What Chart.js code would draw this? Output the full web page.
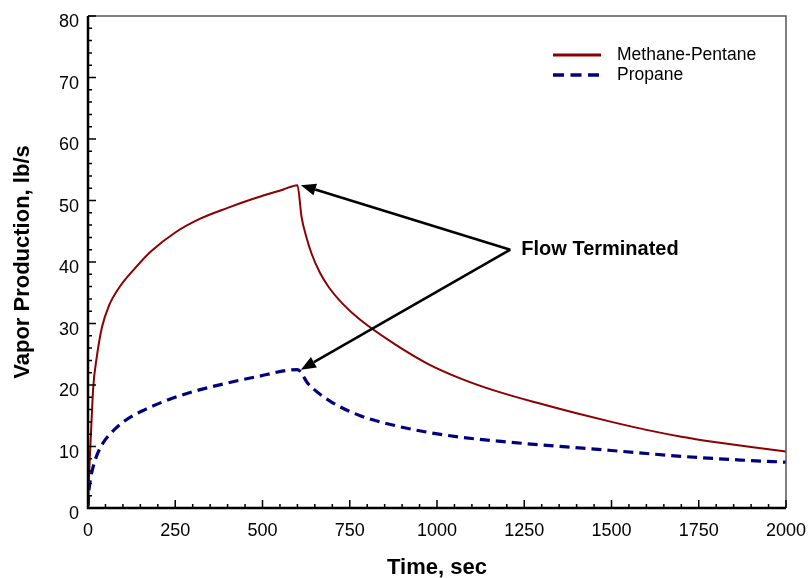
<!DOCTYPE html>
<html>
<head>
<meta charset="utf-8">
<script src="https://cdn.jsdelivr.net/npm/chart.js@4.4.1/dist/chart.umd.min.js"></script>
<style>
  html, body { margin: 0; padding: 0; background: #fff; }
  canvas { display: block; }
</style>
</head>
<body>
<canvas id="c" width="809" height="578"></canvas>
<script>
// ---- data ----
const methaneTime = [0, 2, 5, 8, 15, 25, 40, 60, 90, 135, 180, 250, 320, 400, 480, 560, 600,
  612, 625, 641, 665, 690, 730, 780, 880, 975, 1070, 1170, 1300, 1400, 1500, 1600, 1700, 1800, 1900, 2000];
const methaneValues = [0, 3.4, 8, 11.5, 19.6, 24.5, 29.4, 32.9, 35.9, 39.0, 41.7, 44.8, 47.0, 48.8, 50.4, 51.8, 52.5,
  47.3, 44.2, 41.3, 38.2, 35.9, 33.2, 30.6, 26.6, 23.4, 21.0, 19.0, 16.9, 15.4, 14.0, 12.7, 11.6, 10.7, 9.9, 9.2];

const propaneTime = [0, 3, 8, 20, 39, 68, 106, 163, 230, 300, 390, 480, 600,
  631, 690, 780, 880, 975, 1070, 1170, 1300, 1500, 1700, 1870, 2000];
const propaneValues = [0.3, 3.0, 5.0, 7.7, 10.2, 12.3, 14.2, 16.0, 17.6, 18.9, 20.2, 21.3, 22.5,
  20.2, 17.5, 15.0, 13.4, 12.3, 11.5, 10.9, 10.25, 9.35, 8.4, 7.8, 7.45];

const seriesLabels = ['Methane-Pentane', 'Propane'];
const xAxisTitle = 'Time, sec';
const yAxisTitle = 'Vapor Production, lb/s';
const xRange = [0, 2000], xMajor = 250, xMinor = 50;
const yRange = [0, 80], yMajor = 10, yMinor = 2;

const annotationText = 'Flow Terminated';
const annotationAnchor = { x: 1210, y: 42 };
const annotationTargets = [{ x: 610, y: 52.5 }, { x: 610, y: 22.5 }];

const FONT = "'Liberation Sans', Arial, sans-serif";
const RED = '#8b0000';
const BLUE = '#000080';

const toPoints = (xs, ys) => xs.map((x, i) => ({ x, y: ys[i] }));

// ---- custom drawing: frame, inward ticks, legend, annotation ----
const decorPlugin = {
  id: 'decor',
  afterDatasetsDraw(chart) {
    const { ctx, chartArea: a, scales } = chart;
    const xs = scales.x, ys = scales.y;
    ctx.save();
    // top & right thin frame
    ctx.strokeStyle = '#555';
    ctx.lineWidth = 1.5;
    ctx.beginPath();
    ctx.moveTo(a.left, a.top); ctx.lineTo(a.right, a.top); ctx.lineTo(a.right, a.bottom);
    ctx.stroke();
    // inward ticks
    ctx.strokeStyle = '#000';
    ctx.lineWidth = 1.5;
    ctx.beginPath();
    for (let v = xRange[0]; v <= xRange[1]; v += xMinor) {
      const p = xs.getPixelForValue(v);
      const len = (v % xMajor === 0) ? 8 : 4;
      ctx.moveTo(p, a.bottom); ctx.lineTo(p, a.bottom - len);
    }
    for (let v = yRange[0]; v <= yRange[1]; v += yMinor) {
      const p = ys.getPixelForValue(v);
      const len = (v % yMajor === 0) ? 8 : 4;
      ctx.moveTo(a.left, p); ctx.lineTo(a.left + len, p);
    }
    ctx.stroke();
    // left & bottom heavy axes
    ctx.lineWidth = 2.5;
    ctx.beginPath();
    ctx.moveTo(a.left, a.top); ctx.lineTo(a.left, a.bottom); ctx.lineTo(a.right, a.bottom);
    ctx.stroke();

    // legend
    const ds = chart.data.datasets;
    const lx0 = 553, lx1 = 601, ly = [55, 75];
    ds.forEach((d, i) => {
      ctx.strokeStyle = d.borderColor;
      ctx.lineWidth = i === 0 ? 3 : 3.5;
      ctx.setLineDash(i === 0 ? [] : [11, 6.5]);
      ctx.beginPath();
      ctx.moveTo(lx0, ly[i]); ctx.lineTo(lx1, ly[i]);
      ctx.stroke();
      ctx.setLineDash([]);
      ctx.fillStyle = '#000';
      ctx.font = '17.5px ' + FONT;
      ctx.textBaseline = 'middle';
      ctx.textAlign = 'left';
      ctx.fillText(d.label, 617, ly[i]);
    });

    // annotation arrows
    const sx = xs.getPixelForValue(annotationAnchor.x);
    const sy = ys.getPixelForValue(annotationAnchor.y);
    ctx.strokeStyle = '#000';
    ctx.fillStyle = '#000';
    ctx.lineWidth = 2.5;
    annotationTargets.forEach(t => {
      const tx = xs.getPixelForValue(t.x);
      const ty = ys.getPixelForValue(t.y);
      const ang = Math.atan2(ty - sy, tx - sx);
      const headLen = 15, headW = 6;
      const bx = tx - headLen * Math.cos(ang), by = ty - headLen * Math.sin(ang);
      ctx.beginPath();
      ctx.moveTo(sx, sy); ctx.lineTo(bx, by);
      ctx.stroke();
      ctx.beginPath();
      ctx.moveTo(tx, ty);
      ctx.lineTo(bx + headW * Math.sin(ang), by - headW * Math.cos(ang));
      ctx.lineTo(bx - headW * Math.sin(ang), by + headW * Math.cos(ang));
      ctx.closePath();
      ctx.fill();
    });
    ctx.font = 'bold 20px ' + FONT;
    ctx.textBaseline = 'middle';
    ctx.textAlign = 'left';
    ctx.fillText(annotationText, sx + 11, sy);
    ctx.restore();
  }
};

new Chart(document.getElementById('c'), {
  type: 'line',
  data: {
    datasets: [
      {
        label: seriesLabels[0],
        data: toPoints(methaneTime, methaneValues),
        borderColor: RED,
        borderWidth: 2,
        pointRadius: 0,
        fill: false,
        cubicInterpolationMode: 'monotone'
      },
      {
        label: seriesLabels[1],
        data: toPoints(propaneTime, propaneValues),
        borderColor: BLUE,
        borderWidth: 3.2,
        borderDash: [10, 6],
        pointRadius: 0,
        fill: false,
        cubicInterpolationMode: 'monotone'
      }
    ]
  },
  options: {
    responsive: false,
    animation: false,
    devicePixelRatio: 1,
    layout: { padding: { top: 16, right: 23, left: 0, bottom: 0 } },
    plugins: { legend: { display: false }, tooltip: { enabled: false } },
    scales: {
      x: {
        type: 'linear',
        min: xRange[0], max: xRange[1],
        grid: { display: false, drawTicks: false },
        border: { display: false },
        ticks: { stepSize: xMajor, padding: 12, color: '#000', font: { family: FONT, size: 18 }, maxRotation: 0,
                 callback: v => String(v) },
        title: { display: true, text: xAxisTitle, color: '#000', font: { family: FONT, size: 22, weight: 'bold' }, padding: { top: 0, bottom: -3 } },
        afterFit(s) { s.height = 70; s.paddingLeft = 0; s.paddingRight = 0; }
      },
      y: {
        type: 'linear',
        min: yRange[0], max: yRange[1],
        grid: { display: false, drawTicks: false },
        border: { display: false },
        ticks: { stepSize: yMajor, padding: 9, labelOffset: 6.5, color: '#000', font: { family: FONT, size: 18 },
                 callback: v => String(v) },
        title: { display: true, text: yAxisTitle, color: '#000', font: { family: FONT, size: 22, weight: 'bold' }, padding: { top: 10, bottom: 0 } },
        afterFit(s) { s.width = 88; s.paddingTop = 0; s.paddingBottom = 0; }
      }
    }
  },
  plugins: [decorPlugin]
});
</script>
</body>
</html>
